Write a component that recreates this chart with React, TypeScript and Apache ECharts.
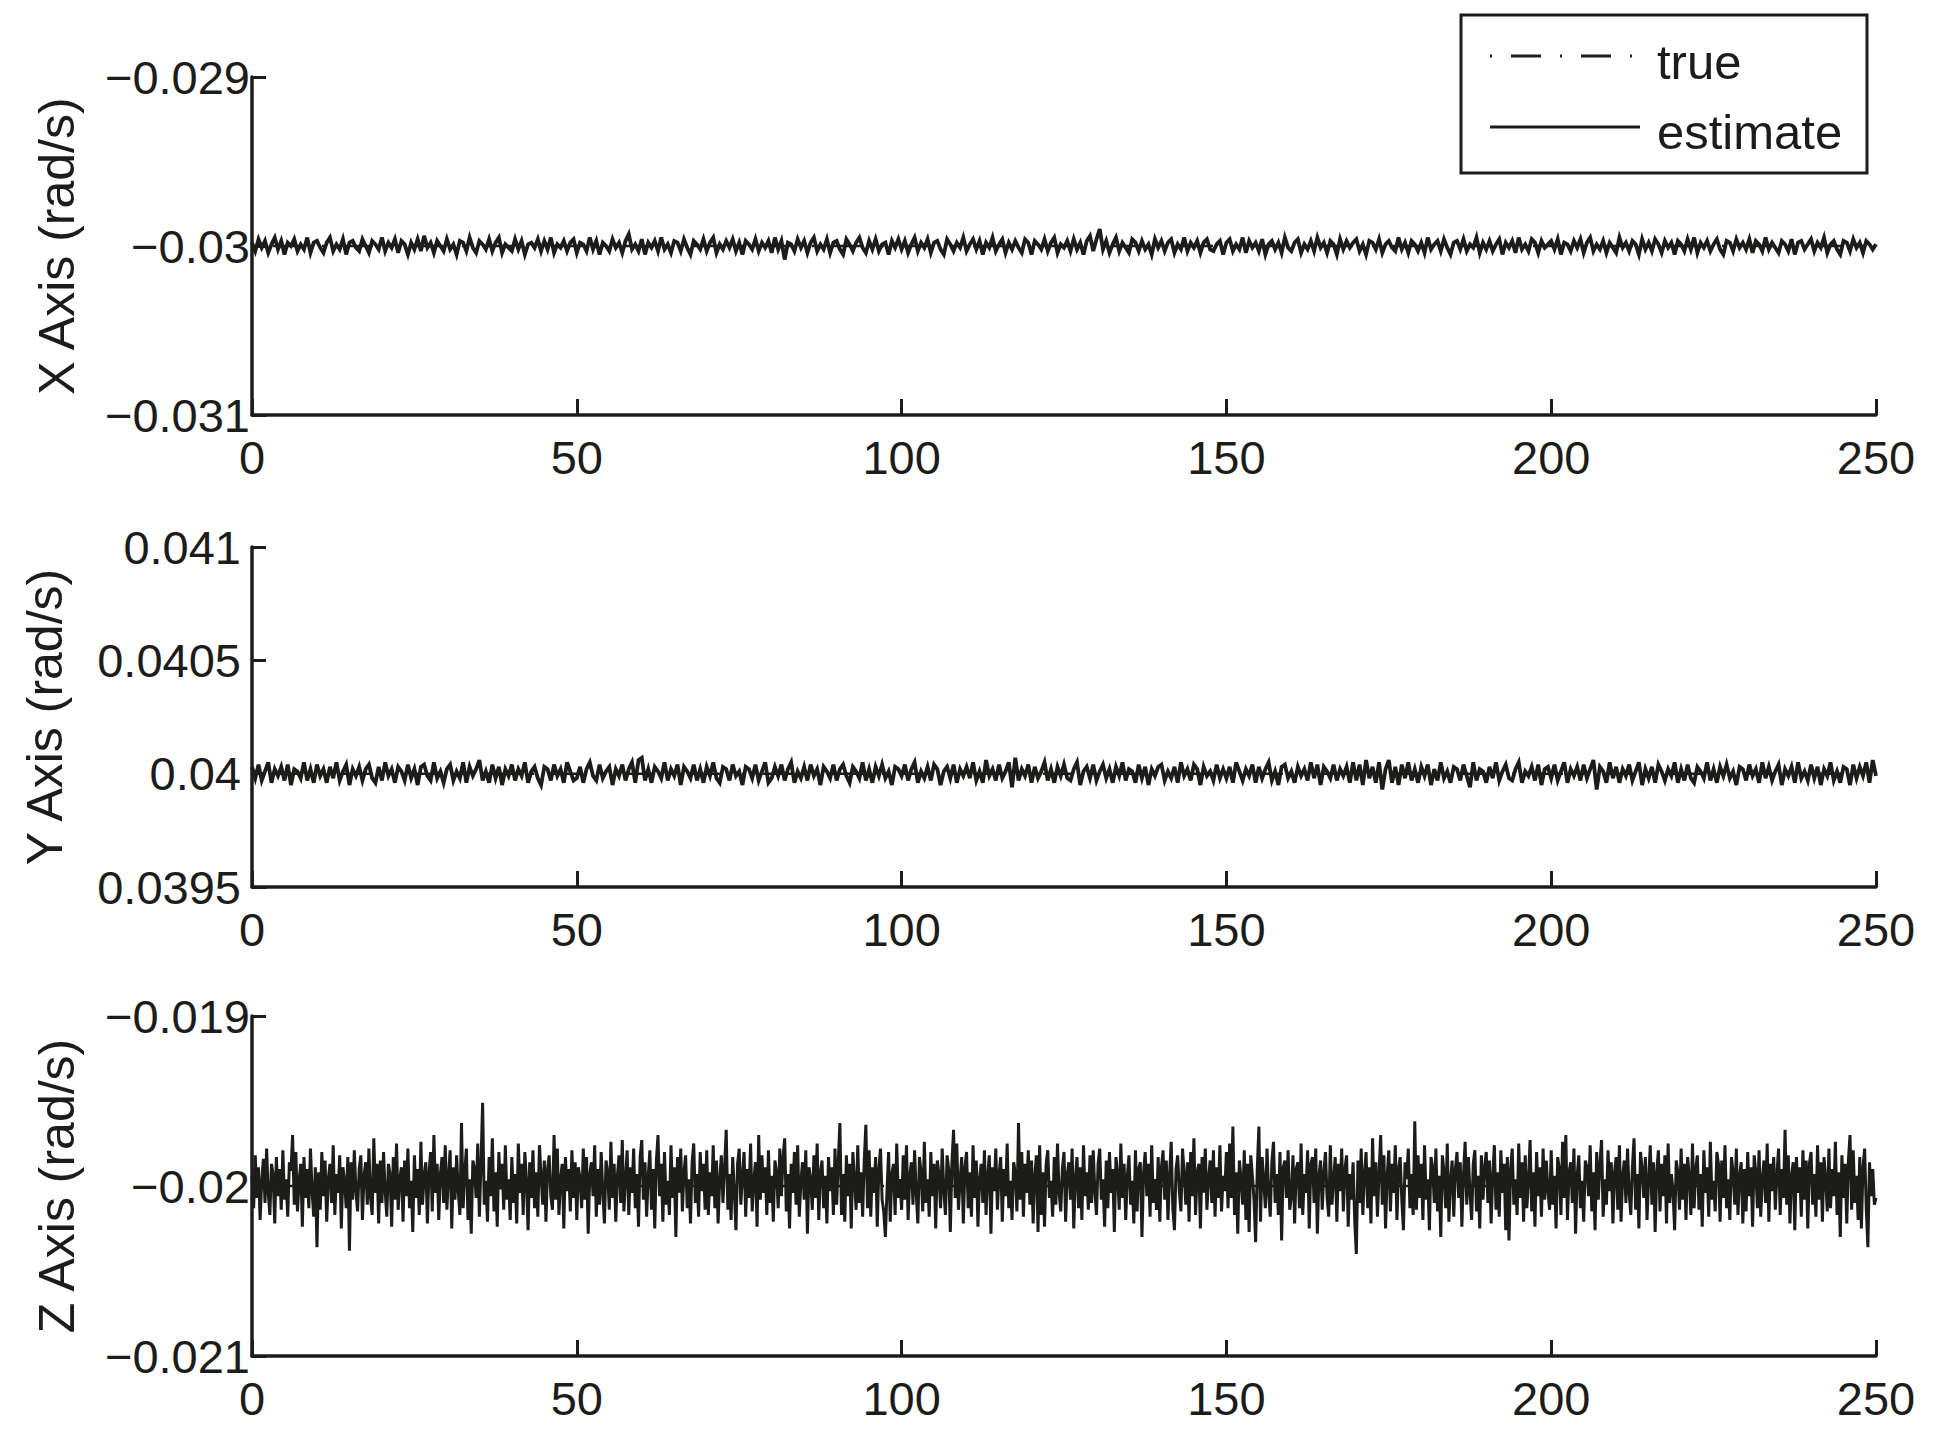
import React, { useEffect, useRef } from "react";
import * as echarts from "echarts";

// ---- data ----
const T_END = 250; // seconds
const NOISE_UNIT = 1e-5; // deviations below are in units of 1e-5 rad/s
const X_TRUE = -0.03;
const Y_TRUE = 0.04;
const Z_TRUE = -0.02;

const X_RANGE = [-0.031, -0.029, 0.001];
const Y_RANGE = [0.0395, 0.041, 0.0005];
const Z_RANGE = [-0.021, -0.019, 0.001];
const TIME_TICKS = [0, 250, 50];

const AXIS_NAMES = ["X Axis (rad/s)", "Y Axis (rad/s)", "Z Axis (rad/s)"];
const LEGEND_NAMES = ["true", "estimate"];

// X axis estimate, 2 samples per second
const X_DEV = [
  2,-3,4,-1,3,-4,1,5,-2,3,-5,2,0,4,-3,1,-2,5,-4,2,
  3,-1,-4,2,5,-3,1,-2,4,-5,2,3,-1,-3,4,0,-4,3,1,-2,
  5,-3,2,-1,4,-4,3,1,-5,2,-2,4,-3,6,-1,2,-4,3,0,-3,
  4,-2,1,-5,3,2,-3,5,-1,-4,3,1,-2,4,-3,2,5,-4,1,-1,
  -3,4,-2,3,-5,1,2,-1,4,-3,3,-2,5,-4,1,-1,3,-3,2,4,
  -4,2,1,-3,5,-2,3,-5,2,0,-3,4,-1,2,-4,3,7,-2,1,-3,
  4,-5,2,-1,3,-3,5,-2,1,-4,3,2,-3,4,-1,-5,3,1,-2,4,
  -3,2,5,-4,1,-2,3,-1,4,-3,2,-5,3,1,-2,4,-3,2,-1,3,
  -4,5,-2,3,-8,2,1,-3,4,-1,3,-4,2,5,-3,1,-2,4,-4,2,
  3,-2,-5,4,1,-3,2,5,-1,-4,3,-2,4,-3,1,2,-5,3,-1,4,
  -2,3,-4,1,5,-3,2,-1,4,-4,2,3,-2,-5,4,1,-3,2,-1,5,
  -3,1,4,-2,3,-5,2,-1,5,-3,1,4,-4,2,-2,3,-1,-4,4,2,
  -5,3,1,-2,4,-3,2,5,-4,1,-1,3,-3,4,-2,2,-5,3,6,-3,
  4,10,-2,3,-4,1,5,-3,2,-1,-4,4,2,-3,3,-2,1,-5,4,-1,
  3,-3,2,4,-4,1,-2,5,-3,2,-1,3,-4,2,4,-2,-3,1,3,-5,
  2,4,-3,1,-2,5,-4,3,-1,2,-3,4,-5,1,3,-2,2,-4,5,-1,
  -3,2,4,-4,1,-2,3,-3,5,-1,2,-4,3,1,-5,4,-2,3,-1,2,
  4,-3,1,-5,3,2,-2,4,-4,1,3,-1,-3,5,-2,2,-4,3,1,-3,
  2,-4,5,-2,1,3,-3,4,-1,-5,2,3,-2,4,-3,1,-1,5,-4,2,
  -2,3,-3,1,4,-5,2,-1,3,-4,5,-2,1,-3,4,2,-4,3,-1,1,
  3,-2,4,-5,2,1,-3,3,-1,4,-4,2,5,-3,1,-2,3,-4,2,-1,
  -4,5,-1,2,-3,3,1,-5,4,-2,2,-3,4,1,-4,3,-1,2,-5,3,
  1,-3,4,-2,5,-4,2,-1,3,-3,1,4,-2,-5,3,2,-3,4,-1,2,
  -2,4,-4,3,1,-3,5,-2,2,-1,-4,3,1,-3,4,-5,2,3,-2,1,
  4,-3,2,-1,5,-4,1,3,-2,-5,3,2,-3,4,-1,2,-4,3,1,-2,
  1,
];

// Y axis estimate, 2 samples per second
const Y_DEV = [
  3,-2,4,-3,1,5,-4,2,-1,3,-3,4,-5,2,1,-2,5,-3,2,-4,
  4,-1,2,-4,3,-2,5,-3,1,4,-5,2,-1,3,-3,2,4,-2,-4,3,
  -3,5,-1,2,-4,3,1,-3,4,-2,2,-5,3,4,-1,-3,5,-2,1,-4,
  2,4,-3,1,-2,5,-4,3,-1,2,6,-3,1,-4,4,-2,3,-5,2,-1,
  4,-3,2,-1,5,-4,1,3,-2,-5,3,2,-3,4,-1,2,-4,5,1,-3,
  -2,3,-4,2,5,-1,-3,4,-2,1,3,-5,2,-1,4,-3,2,5,-4,6,
  7,-3,2,-4,3,1,-2,5,-3,2,-1,4,-5,3,1,-2,4,-3,2,-4,
  3,-1,5,-2,-4,3,2,-3,4,-1,1,-5,3,2,-2,4,-3,1,5,-4,
  -2,3,-1,4,-3,2,5,-4,1,-2,3,-3,4,-1,2,-5,3,1,-2,4,
  -3,2,4,-1,-4,3,1,-2,5,-3,2,-4,3,-1,4,-2,1,-5,3,2,
  -1,4,-3,2,5,-4,1,-2,3,-3,4,2,-5,1,3,-2,4,-4,2,-1,
  3,-2,5,-3,1,-4,6,-1,2,-3,4,-2,1,5,-6,7,-3,2,-1,4,
  -4,3,-2,1,5,-3,2,-4,3,-1,4,-2,-3,2,5,-5,1,3,-2,4,
  -3,1,4,-2,2,-4,3,-1,5,-3,2,1,-4,4,-2,3,-5,2,-1,3,
  4,-3,1,-2,3,-4,5,-1,2,-3,4,2,-5,3,-1,1,-3,4,-2,2,
  -2,3,-4,5,1,-3,2,-1,4,-4,3,-2,2,5,-3,1,-5,3,4,-2,
  1,-4,3,-1,2,-3,5,-2,4,-5,3,1,-2,4,-3,2,-1,3,-4,5,
  -3,4,-5,6,-2,3,-4,5,-7,2,6,-4,3,-5,4,-2,5,-3,2,-4,
  3,-1,4,-5,2,-3,5,-2,1,-4,3,2,-3,4,-1,-6,5,-3,2,1,
  -4,3,-2,5,-3,1,4,-2,-3,2,5,-4,1,-1,3,-3,4,-5,2,3,
  -2,4,-3,1,5,-4,2,-1,3,-3,4,-2,2,6,-7,3,1,-4,5,-2,
  3,-4,2,-1,4,-3,1,5,-5,2,-2,3,-4,4,1,-3,2,-1,5,-4,
  2,-3,4,-2,-4,3,1,-2,5,-3,2,-4,3,-1,4,-2,1,-5,3,2,
  -3,4,-1,2,-4,5,-2,3,-3,1,4,-5,2,-1,3,-4,5,-2,1,-3,
  4,-2,3,-5,2,-1,5,-3,1,-4,3,2,-5,4,-2,3,-1,5,-4,6,
  -1,
];

// Z axis estimate, 4 samples per second (one row = 10 s)
const Z_DEV = [
  6,-13,18,-7,11,-20,3,16,-10,22,-4,-17,13,7,-22,17,-6,10,-14,21,-8,4,-18,14,9,30,-11,20,-15,3,13,-24,17,-7,10,-13,22,-3,-18,11,
  -36,8,-14,20,-6,15,-21,4,13,-10,24,-17,7,-4,18,-25,11,3,-13,17,-38,14,-8,21,-3,-15,10,18,-20,6,14,-11,22,-7,-17,28,-4,13,-22,15,
  -10,20,-3,-18,13,7,-24,17,-8,25,-14,4,11,-21,15,-6,22,-13,3,-27,18,-7,10,-17,26,-11,6,14,-22,8,20,-15,30,-4,13,-20,7,17,-10,24,
  -14,6,21,-25,11,-8,18,-3,-17,37,-13,8,22,-20,4,-28,15,10,-7,25,-18,13,49,-11,3,-21,17,-6,28,-15,8,-24,20,-2,13,-14,24,-8,4,-20,
  17,-10,7,-22,25,-4,13,-17,20,3,-26,14,-7,21,-13,8,-18,24,6,-11,15,-21,10,18,-6,-14,30,-8,22,-17,4,13,-25,17,-3,10,-15,21,-7,14,
  -20,11,4,-13,22,-8,17,-28,7,14,-6,24,-18,10,-11,20,-3,-22,15,8,-14,26,-7,13,-21,6,18,-10,27,-15,4,21,-17,11,-4,22,-13,7,-24,17,
  27,-8,14,-18,6,21,-14,10,-25,15,30,-6,13,-21,20,-11,3,-17,24,-7,11,-30,17,-4,22,-15,8,18,-13,4,-22,14,25,-10,7,-18,20,-3,13,-14,
  21,-17,8,-6,24,-13,15,-22,4,18,-10,11,33,-14,7,-20,17,-3,-26,13,22,-11,6,20,-18,10,-7,25,-15,3,14,-24,30,-8,18,-4,11,-17,21,-10,
  6,-21,15,8,-13,22,-6,17,28,-15,7,-25,13,-4,20,-11,24,-18,3,14,-8,21,-28,11,4,-14,18,-7,25,-20,8,15,-13,6,-22,17,-3,11,-17,22,
  -11,14,37,-17,7,-21,18,-6,13,-25,20,3,-14,24,-10,8,-18,15,36,-13,21,-18,11,-4,17,-24,10,22,-8,-15,-30,-3,20,-21,7,13,-17,25,-7,4,
  -14,18,-8,24,-20,6,14,-11,21,-4,-22,17,8,-15,26,-10,4,-18,20,-6,13,-25,15,7,-13,22,-3,-17,18,10,-27,14,33,-7,25,-14,3,17,-22,11,
  20,-13,8,-18,24,-7,15,-24,4,13,-10,21,-17,6,18,-28,11,-3,22,-14,7,17,-21,10,-6,25,-13,3,-20,14,8,-15,37,-8,20,-18,13,-4,21,-11,
  15,-22,6,18,-27,24,-17,8,-24,13,21,-7,3,-18,17,-11,25,-4,-15,10,20,-21,7,14,-8,22,-25,4,17,-13,11,-20,24,-6,8,-14,18,-10,21,-3,
  -17,13,22,-8,4,-24,15,-13,20,-4,10,-27,17,7,-14,25,-7,13,-20,6,18,-11,3,-22,21,-15,10,14,-30,8,20,-6,13,-18,24,-10,4,-14,17,-21,
  11,21,-8,15,-20,6,26,-13,-26,10,18,-3,-15,22,7,-11,14,-21,20,-6,28,-17,8,13,-25,17,-4,22,-14,4,15,-10,21,-18,11,-7,24,-15,6,-3,
  20,-13,25,-7,35,-17,8,-28,15,4,-11,21,-20,13,-27,18,6,-8,-33,10,35,-21,17,3,-13,22,-4,-18,14,26,-10,7,-17,20,-32,11,15,-7,21,-14,
  -6,18,-22,10,14,-13,25,-17,7,-4,21,-25,13,17,-10,22,-28,6,15,-14,8,20,-7,-18,24,-11,4,17,-21,13,-3,22,-15,10,18,-24,7,-8,14,-20,
  -40,15,-10,22,-17,7,20,-13,11,-22,28,-6,14,-18,8,30,-11,18,-25,6,21,-15,13,-4,24,-20,10,17,-8,-26,14,4,22,-13,7,-17,38,-14,18,-7,
  13,-20,24,-8,4,-26,17,11,-10,22,-15,6,-30,18,8,-13,25,-21,3,15,-18,10,20,-7,14,-24,7,26,-11,17,-4,-20,13,21,-15,6,-25,18,-8,11,
  20,-10,15,-22,6,24,-14,8,-18,21,-4,13,-26,17,-32,10,22,-11,4,-17,25,-7,14,-21,18,-13,3,27,-15,8,-24,20,-6,11,-18,22,-8,15,-3,-14,
  21,-11,6,-25,17,10,-17,26,-7,30,-20,8,14,-10,22,-28,6,18,-13,3,-21,15,11,-6,24,-15,8,-26,20,-8,13,27,-18,4,-11,21,-3,14,-22,8,
  17,-14,24,-21,6,15,-10,22,-4,-17,11,28,-14,7,-25,20,10,-7,17,-20,4,24,-11,14,-27,8,21,-15,13,-6,18,-22,25,-10,7,-3,-26,15,8,-14,
  22,-8,13,-20,17,6,-17,25,-13,10,18,-14,7,-24,21,-4,11,-18,26,-8,3,-15,20,13,-21,15,-7,24,-13,4,-20,17,8,-11,22,-17,6,14,-22,10,
  -15,20,-6,11,-24,18,8,-13,21,-18,4,15,-10,25,-21,13,-3,17,-14,7,22,-17,10,-7,33,-11,18,-22,6,14,-26,17,-4,11,-18,21,-8,15,-25,13,
  20,-11,7,-18,24,-8,14,-21,17,4,-15,22,-13,10,-6,26,-17,8,-30,18,-7,13,-22,15,30,-14,21,-10,6,-20,17,-25,11,22,-13,-36,14,-6,10,-11,
  -7,
];

// ---- styling ----
const INK = "#1c1c1a";
const FONT = "'Liberation Sans', Arial, Helvetica, sans-serif";
const FONT_SIZE = 47;
const NAME_FONT_SIZE = 50;

const GRIDS = [
  { left: 252, top: 77, width: 1624, height: 338 },
  { left: 252, top: 547, width: 1624, height: 340 },
  { left: 252, top: 1016, width: 1624, height: 340 },
];
const NAME_GAPS = [170, 182, 170];
const LABEL_MARGINS = [2, 11, 2];
const DATA_WIDTHS = [3.8, 3.8, 3.0];

function fmtY(v: number) {
  const s = String(Number(v.toPrecision(6)));
  return s.replace("-", "\u2212");
}

function buildEstimate(base: number, dev: number[]) {
  const n = dev.length;
  return dev.map((d, i) => [(i * T_END) / (n - 1), base + d * NOISE_UNIT]);
}

function buildTrue(base: number) {
  return [
    [TIME_TICKS[0], base],
    [TIME_TICKS[1], base],
  ];
}

export default function App() {
  const ref = useRef<HTMLDivElement>(null);

  useEffect(() => {
    if (!ref.current) return;
    const chart = echarts.init(ref.current, undefined, { renderer: "svg" });
    const ranges = [X_RANGE, Y_RANGE, Z_RANGE];
    const bases = [X_TRUE, Y_TRUE, Z_TRUE];
    const devs = [X_DEV, Y_DEV, Z_DEV];

    const xAxis = GRIDS.map((_, i) => ({
      type: "value",
      gridIndex: i,
      min: TIME_TICKS[0],
      max: TIME_TICKS[1],
      interval: TIME_TICKS[2],
      axisLine: { show: true, onZero: false, lineStyle: { color: INK, width: 3.5 } },
      axisTick: { show: true, inside: true, length: 16, lineStyle: { color: INK, width: 3 } },
      axisLabel: {
        show: true,
        color: INK,
        fontFamily: FONT,
        fontSize: FONT_SIZE,
        margin: 19,
        showMinLabel: true,
        showMaxLabel: true,
      },
      splitLine: { show: false },
    }));

    const yAxis = GRIDS.map((_, i) => ({
      type: "value",
      gridIndex: i,
      min: ranges[i][0],
      max: ranges[i][1],
      interval: ranges[i][2],
      name: AXIS_NAMES[i],
      nameLocation: "middle",
      nameRotate: 90,
      nameGap: NAME_GAPS[i],
      nameTextStyle: { color: INK, fontFamily: FONT, fontSize: NAME_FONT_SIZE },
      axisLine: { show: true, onZero: false, lineStyle: { color: INK, width: 3.5 } },
      axisTick: { show: true, inside: true, length: 14, lineStyle: { color: INK, width: 3 } },
      axisLabel: {
        show: true,
        color: INK,
        fontFamily: FONT,
        fontSize: FONT_SIZE,
        margin: LABEL_MARGINS[i],
        formatter: fmtY,
        showMinLabel: true,
        showMaxLabel: true,
      },
      splitLine: { show: false },
    }));

    const series: any[] = [];
    GRIDS.forEach((_, i) => {
      series.push({
        name: LEGEND_NAMES[0],
        type: "line",
        xAxisIndex: i,
        yAxisIndex: i,
        data: buildTrue(bases[i]),
        showSymbol: false,
        symbol: "none",
        silent: true,
        lineStyle: { color: INK, width: 2.5, type: [2, 19, 30, 19] },
      });
      series.push({
        name: LEGEND_NAMES[1],
        type: "line",
        xAxisIndex: i,
        yAxisIndex: i,
        data: buildEstimate(bases[i], devs[i]),
        showSymbol: false,
        symbol: "none",
        silent: true,
        lineStyle: { color: INK, width: DATA_WIDTHS[i], join: "miter", miterLimit: 4 },
      });
    });

    const legendGraphic = {
      type: "group",
      silent: true,
      children: [
        {
          type: "rect",
          shape: { x: 1461, y: 15, width: 406, height: 158 },
          style: { fill: "#ffffff", stroke: INK, lineWidth: 3 },
        },
        {
          type: "line",
          shape: { x1: 1490, y1: 56, x2: 1640, y2: 56 },
          style: { stroke: INK, lineWidth: 3, lineDash: [2, 19, 30, 19] },
        },
        {
          type: "line",
          shape: { x1: 1490, y1: 127, x2: 1640, y2: 127 },
          style: { stroke: INK, lineWidth: 3 },
        },
        {
          type: "text",
          x: 1657,
          y: 62,
          style: {
            text: LEGEND_NAMES[0],
            fill: INK,
            font: `49px ${FONT}`,
            textAlign: "left",
            textVerticalAlign: "middle",
          },
        },
        {
          type: "text",
          x: 1657,
          y: 132,
          style: {
            text: LEGEND_NAMES[1],
            fill: INK,
            font: `49px ${FONT}`,
            textAlign: "left",
            textVerticalAlign: "middle",
          },
        },
      ],
    };

    chart.setOption({
      animation: false,
      backgroundColor: "#ffffff",
      grid: GRIDS.map((g) => ({ ...g, containLabel: false })),
      xAxis,
      yAxis,
      series,
      graphic: [legendGraphic],
    } as any);

    return () => chart.dispose();
  }, []);

  return (
    <div
      ref={ref}
      style={{ position: "absolute", left: 0, top: 0, width: 1933, height: 1435, background: "#fff" }}
    />
  );
}
